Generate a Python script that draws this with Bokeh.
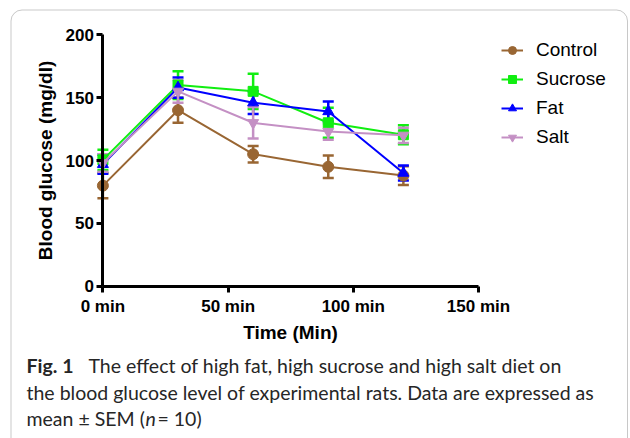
from bokeh.plotting import figure
from bokeh.models import (ColumnDataSource, Whisker, TeeHead, Label, BoxAnnotation,
                          Legend, LegendItem, Range1d, FixedTicker)
from bokeh.embed import file_html
from bokeh.resources import INLINE

# ---- data ----
times = [0, 30, 60, 90, 120]
control = [80, 140, 105, 95, 88]
control_sem = [10, 10, 6.5, 9, 7.5]
sucrose = [100.5, 160, 155, 130, 120.5]
sucrose_sem = [8, 11, 14, 12, 7.5]
fat = [97, 158, 146, 139, 90]
fat_sem = [7.5, 8, 9, 8, 6]
salt = [98, 155, 130, 123, 120]
salt_sem = [7, 9, 12.5, 6.5, 6]

series_names = ["Control", "Sucrose", "Fat", "Salt"]
x_ticks = [0, 50, 100, 150]
x_tick_labels = ["0 min", "50 min", "100 min", "150 min"]
y_ticks = [0, 50, 100, 150, 200]

caption_bold = "Fig. 1"
caption_line1 = "The effect of high fat, high sucrose and high salt diet on"
caption_line2 = "the blood glucose level of experimental rats. Data are expressed as"
caption_line3a = "mean \u00b1 SEM ("
caption_line3b = "n"
caption_line3c = "= 10)"

# ---- layout: the frame covers the whole canvas; axes are placed at data 0 ----
W, H = 630, 438
X0_PX, X150_PX = 102.4, 478.0      # pixel columns of x = 0 and x = 150
Y200_PX, Y0_PX = 34.3, 285.7       # pixel rows of y = 200 and y = 0
kx = (X150_PX - X0_PX) / 150.0
ky = (Y0_PX - Y200_PX) / 200.0
x_start = -X0_PX / kx
x_end = 150 + (W - X150_PX) / kx
y_end = 200 + Y200_PX / ky
y_start = -(H - Y0_PX) / ky

def sy(py):
    """page row -> screen units (measured from the bottom)"""
    return H - py

p = figure(width=W, height=H, min_border=0,
           x_range=Range1d(x_start, x_end), y_range=Range1d(y_start, y_end),
           output_backend="svg", toolbar_location=None)
p.background_fill_color = "white"
p.border_fill_color = "white"
p.outline_line_color = None
p.xgrid.visible = False
p.ygrid.visible = False

for ax in (p.xaxis[0], p.yaxis[0]):
    ax.fixed_location = 0
    ax.axis_line_width = 3
    ax.axis_line_color = "black"
    ax.major_tick_line_width = 3
    ax.major_tick_line_color = "black"
    ax.major_tick_out = 6
    ax.major_tick_in = 0
    ax.minor_tick_line_color = None
    ax.major_label_text_font = "Liberation Sans"
    ax.major_label_text_font_style = "bold"
    ax.major_label_text_font_size = "17px"
    ax.major_label_text_color = "black"
    ax.axis_label_text_font = "Liberation Sans"
    ax.axis_label_text_font_style = "bold"
    ax.axis_label_text_font_size = "19px"
    ax.axis_label_text_color = "black"

p.xaxis.bounds = (0, 150)
p.yaxis.bounds = (0, 200)
p.xaxis.ticker = FixedTicker(ticks=x_ticks)
p.xaxis.major_label_overrides = {t: l for t, l in zip(x_ticks, x_tick_labels)}
p.yaxis.ticker = FixedTicker(ticks=y_ticks)
p.xaxis.axis_label = "Time (Min)"
p.yaxis.axis_label = "Blood glucose (mg/dl)"
p.xaxis.major_label_standoff = 5
p.xaxis.axis_label_standoff = 2
p.yaxis.major_label_standoff = 3
p.yaxis.axis_label_standoff = 6

# card border (rounded), its bottom runs off the page
p.add_layout(BoxAnnotation(left=10.5, right=627, top=sy(9.5), bottom=-20,
                           left_units="screen", right_units="screen",
                           top_units="screen", bottom_units="screen",
                           fill_color=None, line_color="#4a4a4a", line_width=1,
                           border_radius=11, level="underlay"))

colors = ["#996633", "#11EE11", "#0000FF", "#C490C4"]
markers = ["circle", "square", "triangle", "inverted_triangle"]
sizes = [11, 10, 11, 11]
values = [control, sucrose, fat, salt]
sems = [control_sem, sucrose_sem, fat_sem, salt_sem]

items = []
for name, c, m, s, vals, err in zip(series_names, colors, markers, sizes, values, sems):
    src = ColumnDataSource(dict(x=times, y=vals,
                                upper=[v + e for v, e in zip(vals, err)],
                                lower=[v - e for v, e in zip(vals, err)]))
    w = Whisker(source=src, base="x", upper="upper", lower="lower", dimension="height",
                line_color=c, line_width=2.5,
                upper_head=TeeHead(size=11, line_color=c, line_width=2.5),
                lower_head=TeeHead(size=11, line_color=c, line_width=2.5))
    p.add_layout(w)
    r1 = p.line("x", "y", source=src, line_color=c, line_width=2)
    r2 = p.scatter("x", "y", source=src, marker=m, size=s, fill_color=c, line_color=c)
    items.append(LegendItem(label=name, renderers=[r1, r2]))

legend = Legend(items=items, location=(501, sy(148)), orientation="vertical",
                border_line_color=None, background_fill_alpha=0,
                padding=0, margin=0, spacing=7, glyph_width=22, glyph_height=20,
                label_height=20, label_standoff=13,
                label_text_font="Liberation Sans", label_text_font_size="19px",
                label_text_color="black")
p.add_layout(legend)

cap_font = "Lato"
cap_size = "19.5px"
cap_color = "#262626"

def cap(x, py, text, style="normal"):
    p.add_layout(Label(x=x, y=sy(py), x_units="screen", y_units="screen",
                       text=text, text_font=cap_font, text_font_style=style,
                       text_font_size=cap_size, text_color=cap_color,
                       text_baseline="middle"))

cap(26, 365, caption_bold, "bold")
cap(88, 365, caption_line1)
cap(26, 392, caption_line2)
cap(26, 418, caption_line3a)
cap(145, 418, caption_line3b, "italic")
cap(157, 418, caption_line3c)

open("out.html", "w").write(file_html(p, INLINE))
